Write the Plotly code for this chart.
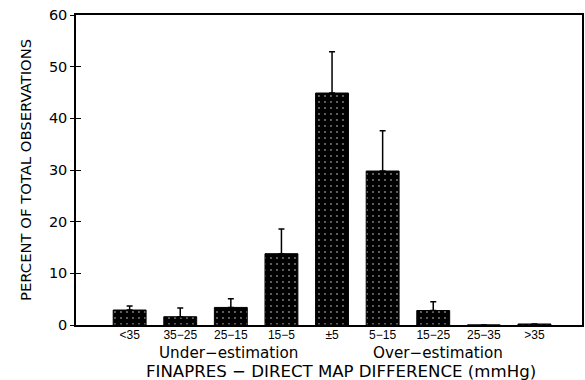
import plotly.graph_objects as go

categories = ["<35", "35\u221225", "25\u221215", "15\u22125", "\u00b15", "5\u221215", "15\u221225", "25\u221235", ">35"]
percent = [2.9, 1.6, 3.4, 13.8, 44.9, 29.8, 2.8, 0.0, 0.2]
sd_upper = [0.8, 1.7, 1.7, 4.8, 8.0, 7.8, 1.7, 0.0, 0.0]
y_ticks = [0, 10, 20, 30, 40, 50, 60]

x_idx = list(range(len(categories)))
font_main = "DejaVu Sans, sans-serif"
font_small = "Liberation Sans, Arial, sans-serif"

fig = go.Figure()
fig.add_trace(go.Bar(
    x=x_idx, y=percent, width=0.65,
    marker=dict(color="black", line=dict(color="black", width=1),
                pattern=dict(shape=".", bgcolor="black", fgcolor="white", size=6, solidity=0.08)),
    error_y=dict(type="data", array=sd_upper, arrayminus=[0]*len(sd_upper), symmetric=False,
                 color="black", thickness=1.5, width=3, visible=True),
    showlegend=False,
))
fig.add_trace(go.Scatter(x=[0], y=[0], yaxis="y2", mode="markers", marker=dict(opacity=0),
                         showlegend=False, hoverinfo="skip"))

fig.update_layout(
    width=585, height=380,
    margin=dict(l=76, r=3, t=15, b=55, autoexpand=False),
    paper_bgcolor="white", plot_bgcolor="white",
    font=dict(family=font_main, color="black", size=14),
    xaxis=dict(range=[-1.06, 8.94], tickvals=x_idx, ticktext=categories, showgrid=False,
               showline=True, linecolor="black", linewidth=1.5, mirror=True, ticks="",
               tickfont=dict(size=12, family=font_small), zeroline=False,
               ticklabelstandoff=-2),
    yaxis=dict(range=[0, 60], tickvals=y_ticks, showgrid=False, zeroline=False,
               showline=True, linecolor="black", linewidth=1.5, mirror=True,
               ticks="outside", ticklen=4, tickwidth=1.2, tickcolor="black",
               tickfont=dict(size=14.5, family=font_main)),
    yaxis2=dict(range=[0, 60], overlaying="y", side="left", tickvals=y_ticks, showticklabels=False,
                ticks="inside", ticklen=5, tickwidth=1.2, tickcolor="black", showgrid=False,
                zeroline=False, showline=False),
)
fig.add_annotation(text="PERCENT OF TOTAL OBSERVATIONS", x=0, y=0.5, xref="paper", yref="paper",
                   xshift=-51, textangle=-90, showarrow=False, font=dict(size=14.8),
                   xanchor="center", yanchor="middle")
fig.add_annotation(text="Under\u2212estimation", x=1.95, y=0, xref="x", yref="paper",
                   yshift=-28, showarrow=False, font=dict(size=15.2), yanchor="middle")
fig.add_annotation(text="Over\u2212estimation", x=6.1, y=0, xref="x", yref="paper",
                   yshift=-28, showarrow=False, font=dict(size=15.2), yanchor="middle")
fig.add_annotation(text="FINAPRES \u2212 DIRECT MAP DIFFERENCE (mmHg)", x=0.5, y=0, xref="paper",
                   yref="paper", yshift=-46, xshift=12, showarrow=False, font=dict(size=16.6),
                   yanchor="middle")

fig.write_html("out.html", config={"displayModeBar": False},
               post_script="document.body.style.margin='0';")
